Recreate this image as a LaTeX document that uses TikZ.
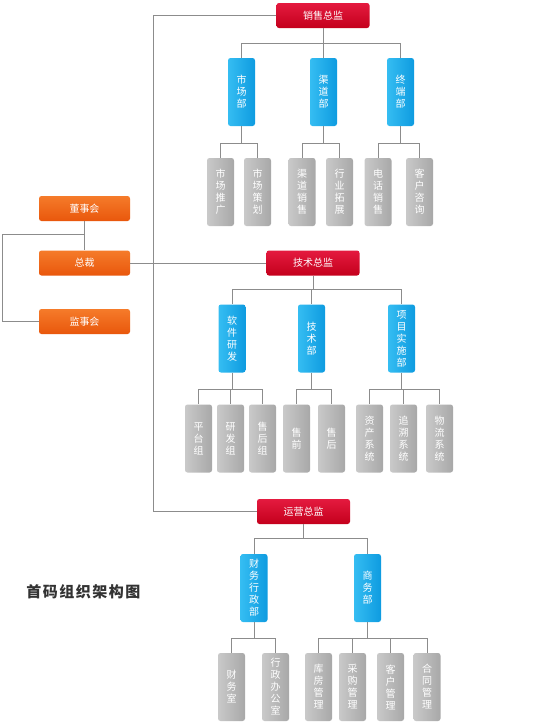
\documentclass[tikz,border=0pt]{standalone}
\usepackage{fontspec}
\newfontfamily\cjk{Noto Sans CJK SC}
\newfontfamily\cjktitle[LetterSpace=10]{Noto Sans CJK SC}
\usepackage{tikz}
\usetikzlibrary{calc,positioning}

\definecolor{redtop}{HTML}{E41A3F}
\definecolor{redbot}{HTML}{C4001C}
\definecolor{bluel}{HTML}{35BDF2}
\definecolor{bluer}{HTML}{0E9BE0}
\definecolor{grayl}{HTML}{C9C9C9}
\definecolor{grayr}{HTML}{A8A8A8}
\definecolor{orgtop}{HTML}{F57B2A}
\definecolor{orgbot}{HTML}{E9570C}
\definecolor{linkgray}{HTML}{8C8C8C}

\tikzset{
  box/.style={inner sep=0pt, rounded corners=2.5pt, text=white,
    font=\cjk\fontsize{10}{12}\selectfont, align=center},
  redbox/.style={box, minimum width=93pt, minimum height=25pt,
    top color=redtop, bottom color=redbot},
  orgbox/.style={box, minimum width=91pt, minimum height=25pt,
    top color=orgtop, bottom color=orgbot},
  bluebox/.style={box, minimum width=27pt, minimum height=68pt,
    left color=bluel, right color=bluer},
  graybox/.style={box, minimum width=27pt, minimum height=68pt,
    left color=grayl, right color=grayr},
  link/.style={draw=linkgray, line width=0.8pt},
}

\begin{document}
\begin{tikzpicture}[x=1pt,y=-1pt]
				%\draw[color=gray,step=10pt,help lines,opacity=0.3] (0,0) grid (548,724); %help grid
				\useasboundingbox[fill=white] (0,0) rectangle (548,724);

				% left: board, president, supervisors
				\node[orgbox] (dsh) at (84.5,208.5) {董事会};
				\node[orgbox] (zc)  at (84.5,263)   {总裁};
				\node[orgbox] (jsh) at (84.5,321.5) {监事会};

				% directors
				\node[redbox] (xs) at (323,15.5)  {销售总监};
				\node[redbox] (js) at (313,263)   {技术总监};
				\node[redbox] (yy) at (303.5,511.5) {运营总监};

				% sales
				\node[bluebox] (scb) at (241.5,92) {市\\场\\部};
				\node[bluebox] (qdb) at (323.5,92) {渠\\道\\部};
				\node[bluebox] (zdb) at (400.5,92) {终\\端\\部};

				\node[graybox] (sctg) at (220.5,192) {市\\场\\推\\广};
				\node[graybox] (scch) at (257.5,192) {市\\场\\策\\划};
				\node[graybox] (qdxs) at (302,192)   {渠\\道\\销\\售};
				\node[graybox] (hytz) at (339.5,192) {行\\业\\拓\\展};
				\node[graybox] (dhxs) at (378,192)   {电\\话\\销\\售};
				\node[graybox] (khzx) at (419.5,192) {客\\户\\咨\\询};

				% technology
				\node[bluebox] (rjyf) at (232,338.5)   {软\\件\\研\\发};
				\node[bluebox] (jsb)  at (311.5,338.5) {技\\术\\部};
				\node[bluebox] (xmss) at (401.5,338.5) {项\\目\\实\\施\\部};

				\node[graybox] (ptz)  at (198.5,438.5) {平\\台\\组};
				\node[graybox] (yfz)  at (230.5,438.5) {研\\发\\组};
				\node[graybox] (shz)  at (262.5,438.5) {售\\后\\组};
				\node[graybox] (sq)   at (296.5,438.5) {售\\前};
				\node[graybox] (sh)   at (331.5,438.5) {售\\后};
				\node[graybox] (zcxt) at (369.5,438.5) {资\\产\\系\\统};
				\node[graybox] (zsxt) at (403.5,438.5) {追\\溯\\系\\统};
				\node[graybox] (wlxt) at (439.5,438.5) {物\\流\\系\\统};

				% operations
				\node[bluebox] (cwxz) at (254,588)   {财\\务\\行\\政\\部};
				\node[bluebox] (swb)  at (367.5,588) {商\\务\\部};

				\node[graybox] (cws)   at (231.5,687) {财\\务\\室};
				\node[graybox] (xzbgs) at (275.5,687) {行\\政\\办\\公\\室};
				\node[graybox] (kfgl)  at (318.5,687) {库\\房\\管\\理};
				\node[graybox] (cggl)  at (352.5,687) {采\\购\\管\\理};
				\node[graybox] (khgl)  at (390.5,687) {客\\户\\管\\理};
				\node[graybox] (htgl)  at (427,687)   {合\\同\\管\\理};

				\node[text=black!80, font=\cjktitle\fontsize{15}{18}\selectfont\bfseries] (title) at (83.5,592) {首码组织架构图};

				% bar levels
				\coordinate (trunk) at (153,0);
				\coordinate (lk) at (2,234);
				\coordinate (xsbar) at (323,43);
				\coordinate (scbar) at (241.5,143);
				\coordinate (qdbar) at (323.5,143);
				\coordinate (zdbar) at (400.5,143);
				\coordinate (jsbar) at (313,289);
				\coordinate (rjbar) at (232,389);
				\coordinate (jbbar) at (311.5,389);
				\coordinate (xmbar) at (401.5,389);
				\coordinate (yybar) at (303.5,538);
				\coordinate (cwbar) at (254,638);
				\coordinate (swbar) at (367.5,638);

				\draw[link] (dsh) -- (zc);
				\draw[link] (dsh.south |- lk) -- (lk) |- (jsh);
				\draw[link] (xs.west) -| (trunk |- yy.west) -- (yy.west);
				\draw[link] (zc) -- (js);

				\draw[link] (xs) -- (xsbar);
				\foreach \c in {scb,qdb,zdb} \draw[link] (xsbar) -| (\c);
				\draw[link] (scb) -- (scbar);
				\foreach \c in {sctg,scch} \draw[link] (scbar) -| (\c);
				\draw[link] (qdb) -- (qdbar);
				\foreach \c in {qdxs,hytz} \draw[link] (qdbar) -| (\c);
				\draw[link] (zdb) -- (zdbar);
				\foreach \c in {dhxs,khzx} \draw[link] (zdbar) -| (\c);

				\draw[link] (js) -- (jsbar);
				\foreach \c in {rjyf,jsb,xmss} \draw[link] (jsbar) -| (\c);
				\draw[link] (rjyf) -- (rjbar);
				\foreach \c in {ptz,yfz,shz} \draw[link] (rjbar) -| (\c);
				\draw[link] (jsb) -- (jbbar);
				\foreach \c in {sq,sh} \draw[link] (jbbar) -| (\c);
				\draw[link] (xmss) -- (xmbar);
				\foreach \c in {zcxt,zsxt,wlxt} \draw[link] (xmbar) -| (\c);

				\draw[link] (yy) -- (yybar);
				\foreach \c in {cwxz,swb} \draw[link] (yybar) -| (\c);
				\draw[link] (cwxz) -- (cwbar);
				\foreach \c in {cws,xzbgs} \draw[link] (cwbar) -| (\c);
				\draw[link] (swb) -- (swbar);
				\foreach \c in {kfgl,cggl,khgl,htgl} \draw[link] (swbar) -| (\c);
\end{tikzpicture}
\end{document}
